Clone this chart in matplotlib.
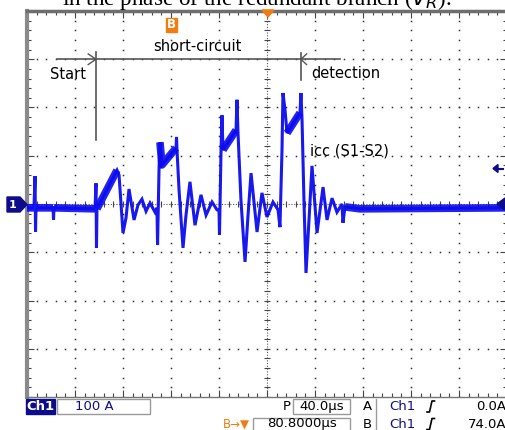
import numpy as np
import matplotlib
matplotlib.use("Agg")
from matplotlib import pyplot as plt
from matplotlib.lines import Line2D
from matplotlib.patches import Rectangle, Polygon

# icc (S1-S2) trace: time in us, current in A
t_us = [0, 5.8, 6.7, 7.1, 7.5, 21.7, 22.1, 22.5, 56.7, 57.5, 57.9, 58.3, 75,
        76.7, 80, 82.5, 85, 89.2, 92.5, 95.8, 99.2, 102.5, 106.7, 108.3, 108.8,
        110, 110.8, 112.5, 124.2, 124.6, 125, 126.7, 130, 132.5, 135.8, 140,
        145, 149.2, 154.2, 158.3, 160, 160.4, 161.7, 162.5, 163.3, 174.2, 175,
        175.8, 178.3, 181.7, 184.2, 186.7, 191.7, 195.8, 200, 205, 209.2, 210.8,
        212.5, 213.3, 215, 216.7, 227.5, 228.3, 229.2, 230.8, 232.5, 235, 237.5,
        241.7, 246.7, 250, 254.2, 258.3, 262.5, 263.3, 265, 277.5, 400]
icc_A = [-8, -8, 58, -58, -8, -8, -33, -8, -10, 43, -91, -10, 70,
         60, -60, -29, 31, -33, -2, 10, -15, 2, -17, -8, -85,
         70, 128, 81, 116, 139, 112, 29, -91, -23, 46, -44,
         19, -23, 4, -12, -12, -64, 112, 184, 112, 153, 216,
         149, 8, -120, -23, 64, -58, 23, -27, 4, -12, -48,
         112, 230, 195, 147, 189, 230, 174, 8, -143, -33, 79,
         -60, 35, -33, 12, -17, 0, -39, -6, -10, -8]

# stretches where the trace is a wide noisy band
band_spans = [(0, 5.8), (7.5, 21.7), (22.5, 56.7), (58.3, 75), (110.8, 124.2),
              (163.3, 174.2), (216.7, 227.5), (265, 400)]

t = np.array(t_us, dtype=float)
i = np.array(icc_A, dtype=float)

W, H = 505, 430
fig = plt.figure(figsize=(W / 100, H / 100), dpi=100)
fig.patch.set_facecolor("white")

def fx(px):
    return px / W

def fy(py):
    return 1 - py / H

ax = fig.add_axes([fx(27), fy(397), 480 / W, 386 / H])
ax.set_xlim(0, 400)
ax.set_ylim(-400, 400)

# graticule dots
for k in range(1, 10):
    if k == 5:
        continue
    yy = np.arange(-400, 401, 20)
    ax.plot(np.full_like(yy, 40 * k, dtype=float), yy, ls="none", marker="s",
            ms=1.1, color="#333333", mew=0, zorder=1)
for k in (-3, -2, -1, 1, 2, 3):
    xx = np.arange(0, 401, 8)
    ax.plot(xx, np.full_like(xx, 100 * k, dtype=float), ls="none", marker="s",
            ms=1.1, color="#333333", mew=0, zorder=1)

# centre cross with small ticks
ax.axvline(200, color="#555555", lw=0.8, ls=(0, (1, 1.5)), zorder=1)
ax.axhline(0, color="#555555", lw=0.8, ls=(0, (1, 1.5)), zorder=1)
yy = np.arange(-400, 401, 20)
ax.plot(np.full_like(yy, 200, dtype=float), yy, ls="none", marker="_",
        ms=5, mew=0.8, color="#444444", zorder=1)
xx = np.arange(0, 401, 8)
ax.plot(xx, np.zeros_like(xx, dtype=float), ls="none", marker="|",
        ms=5, mew=0.8, color="#444444", zorder=1)

# border ticks
ax.set_xticks(np.arange(0, 401, 40))
ax.set_xticks(np.arange(0, 401, 8), minor=True)
ax.set_yticks(np.arange(-400, 401, 100))
ax.set_yticks(np.arange(-400, 401, 20), minor=True)
ax.tick_params(which="both", direction="in", top=True, right=True,
               labelbottom=False, labelleft=False, color="#444444", width=0.8)
ax.tick_params(which="major", length=5)
ax.tick_params(which="minor", length=3)
ax.spines["top"].set_linewidth(2.5)
ax.spines["top"].set_color("#6e6e6e")
ax.spines["left"].set_linewidth(3)
ax.spines["left"].set_color("#8a8a8a")
ax.spines["bottom"].set_linewidth(1)
ax.spines["bottom"].set_color("#777777")
ax.spines["right"].set_visible(False)

# trace
blue = "#0b0bef"
mask = np.zeros_like(t, dtype=bool)
for a, b in band_spans:
    mask |= (t >= a) & (t <= b)
ax.plot(t, i, color=blue, lw=2.2, alpha=0.95, zorder=3, solid_joinstyle="miter")
ax.plot(t, np.where(mask, i, np.nan), color=blue, lw=5.5, alpha=0.9, zorder=3,
        solid_capstyle="butt")

# annotations
ann = "#555555"
ax.plot([25, 261], [300, 300], color=ann, lw=1.2, zorder=4)
ax.plot([57.5, 57.5], [133, 315], color=ann, lw=1.2, zorder=4)
ax.plot([51, 57.5, 51], [311, 300, 289], color=ann, lw=1, zorder=4)
ax.plot([228.3, 228.3], [257, 313], color=ann, lw=1.2, zorder=4)
ax.plot([233, 228.3, 233], [311, 300, 289], color=ann, lw=1, zorder=4)
ax.text(34, 269, "Start", ha="center", va="center", fontsize=10.5)
ax.text(142, 327, "short-circuit", ha="center", va="center", fontsize=10.5)
ax.text(236.5, 271, "detection", ha="left", va="center", fontsize=10.5)
ax.text(236, 110, "icc (S1-S2)", ha="left", va="center", fontsize=10.5)

# caption remnant at the very top
fig.text(fx(62), fy(4.5), r"in the phase of the redundant branch ($v_R$).",
         family="Liberation Serif", fontsize=16.7, ha="left", va="baseline")

# markers on the screen edge
orange = "#f07d12"
fig.add_artist(Rectangle((fx(166), fy(32)), 11 / W, 14 / H, color=orange,
                         transform=fig.transFigure))
fig.text(fx(171.5), fy(25), "B", color="white", fontsize=8.5, fontweight="bold",
         ha="center", va="center")
fig.add_artist(Polygon([(fx(262), fy(10)), (fx(274), fy(10)), (fx(268), fy(17))],
                       closed=True, color=orange, transform=fig.transFigure))
navy = "#0d0d8c"
fig.add_artist(Polygon([(fx(7), fy(197)), (fx(20), fy(197)), (fx(27), fy(204.5)),
                        (fx(20), fy(212)), (fx(7), fy(212))], closed=True,
                       color=navy, transform=fig.transFigure))
fig.text(fx(13), fy(204.5), "1", color="white", fontsize=8, fontweight="bold",
         ha="center", va="center")
fig.add_artist(Polygon([(fx(505), fy(198)), (fx(497), fy(204)), (fx(505), fy(210))],
                       closed=True, color=navy, transform=fig.transFigure))
fig.add_artist(Polygon([(fx(493), fy(168.5)), (fx(498), fy(164.5)), (fx(498), fy(172.5))],
                       closed=True, color=navy, transform=fig.transFigure))
fig.add_artist(Line2D([fx(497), fx(503)], [fy(168.5), fy(168.5)], color=navy,
                      lw=1.5, transform=fig.transFigure))

# status bar
fig.add_artist(Rectangle((fx(26), fy(414)), 29 / W, 15 / H, color=navy,
                         transform=fig.transFigure))
fig.text(fx(40.5), fy(406.5), "Ch1", color="white", fontsize=9.5,
         fontweight="bold", ha="center", va="center")
for x0, y0, w, h in [(57, 399, 93, 15), (293, 399, 57, 15), (253, 418, 97, 14)]:
    fig.add_artist(Rectangle((fx(x0), fy(y0 + h)), w / W, h / H, fill=False,
                             ec="#9a9a9a", lw=1, transform=fig.transFigure))
fig.text(fx(94), fy(406.5), "100 A", color=navy, fontsize=9.5, ha="center",
         va="center")
fig.text(fx(291), fy(406.5), "P", fontsize=9.5, ha="right", va="center")
fig.text(fx(321.5), fy(406.5), "40.0\u00b5s", fontsize=9.5, ha="center", va="center")
fig.text(fx(302), fy(424), "80.8000\u00b5s", fontsize=9.5, ha="center", va="center")
fig.text(fx(236), fy(424), "B\u2192\u25bc", color=orange, fontsize=8.5,
         ha="center", va="center")
fig.add_artist(Line2D([fx(376), fx(376)], [fy(399), fy(430)], color="#9a9a9a",
                      lw=1, transform=fig.transFigure))
for row_y, lab, val in [(406.5, "A", "0.0A"), (424, "B", "74.0A")]:
    fig.text(fx(367), fy(row_y), lab, fontsize=9.5, ha="center", va="center")
    fig.text(fx(402), fy(row_y), "Ch1", color=navy, fontsize=9.5, ha="center",
             va="center")
    fig.add_artist(Line2D([fx(427), fx(429.5), fx(432), fx(434.5)],
                          [fy(row_y + 5.5), fy(row_y + 5.5), fy(row_y - 5.5), fy(row_y - 5.5)],
                          color="black", lw=1.2, transform=fig.transFigure))
    fig.text(fx(506), fy(row_y), val, fontsize=9.5, ha="right", va="center")

fig.savefig("out.png", dpi=100)
